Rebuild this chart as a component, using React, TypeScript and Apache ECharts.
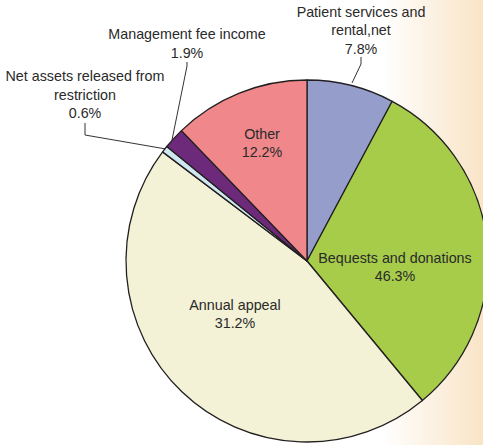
import React, { useEffect, useRef } from 'react';
import * as echarts from 'echarts';

const categories = [
  'Patient services and\nrental,net',
  'Bequests and donations',
  'Annual appeal',
  'Net assets released from\nrestriction',
  'Management fee income',
  'Other',
];
// slice sizes as drawn in the reference
const sliceValues = [7.8, 31.2, 46.3, 0.6, 1.9, 12.2];
// percentages as printed in the reference labels
const labelPercents = ['7.8%', '46.3%', '31.2%', '0.6%', '1.9%', '12.2%'];
const sliceColors = ['#959DCB', '#A6CC4A', '#F3F1D6', '#CFE7F0', '#6E2A7A', '#F0888B'];
const insideFlags = [false, true, true, false, false, true];

const labelSpots: Record<number, { x: number; y: number; line?: number[][] }> = {
  0: { x: 361, y: 30, line: [[352, 83], [361, 64], [361, 57]] },
  1: { x: 395, y: 267 },
  2: { x: 235, y: 314 },
  3: { x: 85, y: 94.5, line: [[166, 149], [85, 135], [85, 123]] },
  4: { x: 187, y: 43.5, line: [[172, 140], [187, 66], [187, 62]] },
  5: { x: 262, y: 143 },
};

export default function App() {
  const ref = useRef<HTMLDivElement>(null);
  useEffect(() => {
    if (!ref.current) return;
    const chart = echarts.init(ref.current, null, { renderer: 'svg' });
    chart.setOption({
      animation: false,
      series: [
        {
          type: 'pie',
          center: [307, 261],
          radius: 181,
          startAngle: 90,
          clockwise: true,
          avoidLabelOverlap: false,
          emphasis: { disabled: true },
          itemStyle: { borderColor: '#231f20', borderWidth: 1.3 },
          label: {
            fontFamily: 'Liberation Sans, Arial, sans-serif',
            fontSize: 14.3,
            lineHeight: 18.5,
            color: '#2a2a2a',
            align: 'center',
            formatter: (p: any) => `${p.name}\n${labelPercents[p.dataIndex]}`,
          },
          labelLine: { lineStyle: { color: '#333', width: 1 } },
          labelLayout: (p: any) => {
            const s = labelSpots[p.dataIndex];
            const out: any = { x: s.x, y: s.y, align: 'center', verticalAlign: 'middle' };
            if (s.line) out.labelLinePoints = s.line;
            return out;
          },
          data: categories.map((name, i) => ({
            name,
            value: sliceValues[i],
            itemStyle: { color: sliceColors[i] },
            label: { position: insideFlags[i] ? 'inside' : 'outside' },
            labelLine: { show: !insideFlags[i] },
          })),
        },
      ],
    });
    return () => chart.dispose();
  }, []);
  return (
    <div
      ref={ref}
      style={{
        position: 'absolute',
        left: 0,
        top: 0,
        width: 483,
        height: 445,
        background: 'linear-gradient(to right, #ffffff 0%, #ffffff 79%, #F9E4C6 100%)',
      }}
    />
  );
}
